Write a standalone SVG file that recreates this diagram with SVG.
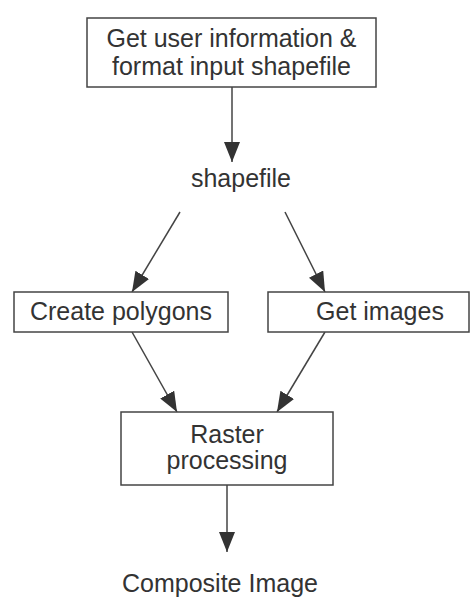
<svg xmlns="http://www.w3.org/2000/svg" width="471" height="600" viewBox="0 0 471 600">
<style>
.box{fill:#fff;stroke:#444;stroke-width:1.5}
.t{font-family:"Liberation Sans",Arial,sans-serif;font-size:25px;fill:#333;text-anchor:middle}
.c{stroke:#444;stroke-width:1.5;fill:none;marker-end:url(#ah)}
</style>
<defs>
<marker id="ah" markerUnits="userSpaceOnUse" markerWidth="20" markerHeight="16" viewBox="0 0 20 16" refX="20" refY="8" orient="auto">
<path d="M0,0 L20,8 L0,16 z" fill="#333"/>
</marker>
</defs>
<rect width="471" height="600" fill="#fff"/>
<g id="connectors">
<line class="c" x1="232" y1="87" x2="232" y2="162"/>
<line class="c" x1="180" y1="212" x2="132" y2="292"/>
<line class="c" x1="285" y1="212" x2="325" y2="292"/>
<line class="c" x1="132" y1="332" x2="177" y2="412"/>
<line class="c" x1="325" y1="332" x2="277" y2="412"/>
<line class="c" x1="227" y1="485" x2="227" y2="552"/>
</g>
<g id="get-user-info">
<rect class="box" x="87" y="18" width="289" height="69"/>
<text class="t" x="231.5" y="47">Get user information &amp;</text>
<text class="t" x="231.5" y="75">format input shapefile</text>
</g>
<g id="shapefile">
<text class="t" x="241" y="187">shapefile</text>
</g>
<g id="create-polygons">
<rect class="box" x="14" y="292" width="214" height="40"/>
<text class="t" x="121" y="320">Create polygons</text>
</g>
<g id="get-images">
<rect class="box" x="268" y="292" width="201" height="40"/>
<text class="t" x="380" y="320">Get images</text>
</g>
<g id="raster-processing">
<rect class="box" x="121" y="412" width="212" height="73"/>
<text class="t" x="227" y="443">Raster</text>
<text class="t" x="227" y="469">processing</text>
</g>
<g id="composite-image">
<text class="t" x="220" y="592">Composite Image</text>
</g>
</svg>
